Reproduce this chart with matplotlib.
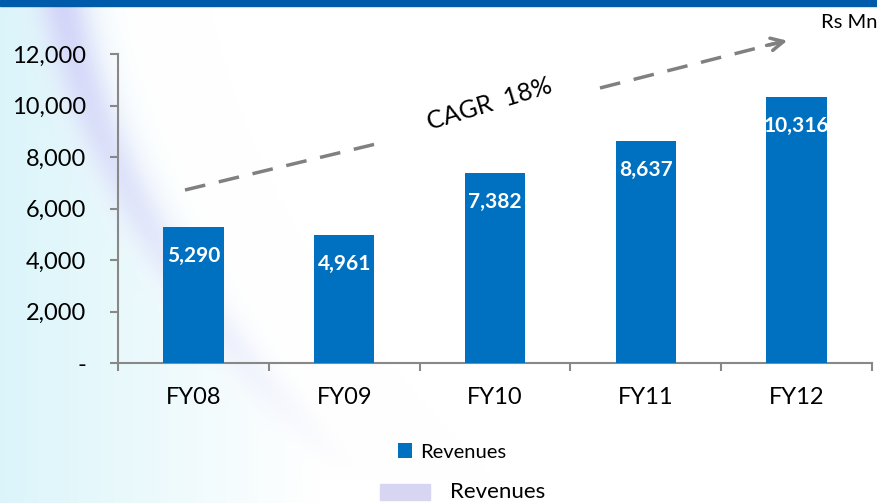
import matplotlib
matplotlib.use("Agg")
import matplotlib.pyplot as plt
import numpy as np
from matplotlib.patches import Rectangle

plt.rcParams['font.family'] = ['Lato', 'DejaVu Sans']

years = ["FY08", "FY09", "FY10", "FY11", "FY12"]
revenues = [5290, 4961, 7382, 8637, 10316]
yticks = [0, 2000, 4000, 6000, 8000, 10000, 12000]
ytick_labels = ["-", "2,000", "4,000", "6,000", "8,000", "10,000", "12,000"]

bar_color = "#0070C0"

fig = plt.figure(figsize=(8.78, 5.03), dpi=100)

# soft background swoosh on the left
bg = fig.add_axes([0, 0, 1, 1], zorder=-10)
h, w = 503, 878
yy, xx = np.mgrid[0:h, 0:w]
curve = 60 + 0.0009 * (yy - 40) ** 2 + 0.25 * yy
d = xx - curve
fade = np.clip(1 - xx / 320.0, 0, 1)
img = np.ones((h, w, 3))
cyan = np.array([0.86, 0.96, 0.98])
lav = np.array([0.80, 0.80, 0.97])
a = np.clip(-d / 120.0 + 0.6, 0, 1) * fade
band = np.exp(-(d / 25.0) ** 2) * np.clip(1 - yy / 480.0, 0, 1)
for c in range(3):
    img[:, :, c] = 1 - a * (1 - cyan[c])
    img[:, :, c] = img[:, :, c] * (1 - band * 0.8) + lav[c] * band * 0.8
bg.imshow(img, aspect='auto', extent=[0, 1, 0, 1], origin='upper')
bg.axis('off')

# top band
fig.patches.append(Rectangle((0, 1 - 6 / 503), 1, 6 / 503, transform=fig.transFigure,
                             color="#005BAA", zorder=5))

ax = fig.add_axes([118 / 878, 1 - 363 / 503, 754 / 878, 309 / 503])
ax.patch.set_alpha(0)
x = np.arange(len(years))
bars = ax.bar(x, revenues, width=0.4, color=bar_color, label="Revenues", zorder=3)

for xi, v in zip(x, revenues):
    ax.text(xi, v - 1130, "{:,}".format(v), ha='center', va='center', color='white',
            fontsize=15, fontweight='bold', zorder=4, clip_on=True)

ax.set_xlim(-0.5, len(years) - 0.5)
ax.set_ylim(0, 12000)
ax.set_yticks(yticks)
ax.set_yticklabels(ytick_labels, fontsize=17)
ax.set_xticks(np.arange(len(years) + 1) - 0.5)
ax.set_xticklabels([])
ax.set_xticks(x, minor=True)
ax.set_xticklabels(years, minor=True, fontsize=17)
ax.tick_params(axis='x', which='minor', length=0, pad=17)
ax.tick_params(axis='both', which='major', length=6, width=1.5, color='#888888')
ax.tick_params(axis='y', pad=17)
for s in ['top', 'right']:
    ax.spines[s].set_visible(False)
for s in ['left', 'bottom']:
    ax.spines[s].set_color('#888888')
    ax.spines[s].set_linewidth(1.5)

# CAGR arrow
p0 = (185 / 878, 1 - 190 / 503)
p1 = (790 / 878, 1 - 40 / 503)
g0 = (380 / 878, 1 - 143 / 503)
g1 = (600 / 878, 1 - 88 / 503)
fig.add_artist(plt.Line2D([p0[0], g0[0]], [p0[1], g0[1]], transform=fig.transFigure,
                          color='#808080', lw=2.5, ls=(0, (6, 4))))
fig.add_artist(plt.Line2D([g1[0], 0.885], [g1[1], 1 - 43 / 503], transform=fig.transFigure,
                          color='#808080', lw=2.5, ls=(0, (6, 4))))
ax.annotate("", xy=p1, xycoords='figure fraction', xytext=(0.87, 1 - 46 / 503),
            textcoords='figure fraction',
            arrowprops=dict(arrowstyle='->,head_length=0.9,head_width=0.45',
                            color='#808080', lw=2.5))
fig.text(490 / 878, 1 - 104 / 503, "CAGR  18%", rotation=17, ha='center', va='center',
         fontsize=18)

fig.text(878 / 878, 1 - 22 / 503, "Rs Mn", ha='right', va='center', fontsize=14.5)

# legends
leg = fig.legend(handles=[bars], labels=["Revenues"], loc='center',
                 bbox_to_anchor=(452 / 878, 1 - 452 / 503), frameon=False, fontsize=14.5,
                 handlelength=0.7, handleheight=0.7, handletextpad=0.4)
fig.patches.append(Rectangle((380 / 878, 1 - 500 / 503), 50 / 878, 16 / 503,
                             transform=fig.transFigure, color="#D6D6F2", zorder=5))
fig.text(498 / 878, 1 - 492 / 503, "Revenues", ha='center', va='center', fontsize=16)

fig.savefig("out.png", dpi=100)
